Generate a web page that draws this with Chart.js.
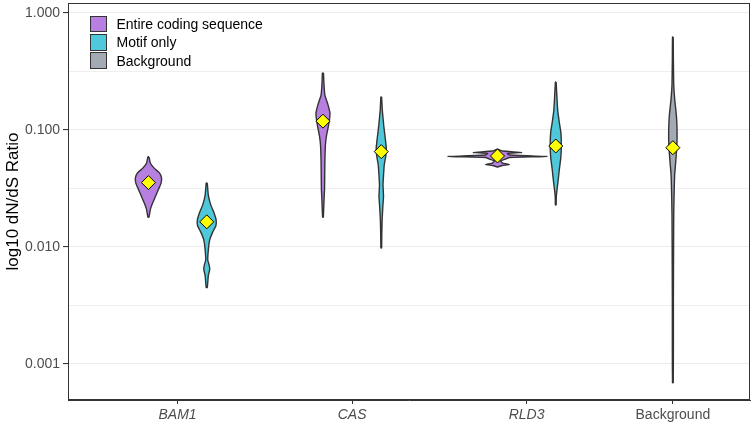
<!DOCTYPE html>
<html>
<head>
<meta charset="utf-8">
<script src="https://cdn.jsdelivr.net/npm/chart.js@4.4.1/dist/chart.umd.min.js"></script>
<style>
  body { margin: 0; background: #fff; font-family: "Liberation Sans", Arial, sans-serif; }
  #wrap { position: relative; width: 755px; height: 425px; }
  #legend { position: absolute; left: 90px; top: 15px; }
  .item { display: flex; align-items: center; height: 18.3px; font-size: 14px; color: #000; }
  .box { width: 14.5px; height: 14.5px; border: 1.2px solid #333; margin-right: 10px; }
</style>
</head>
<body>
<div id="wrap">
  <canvas id="chart" width="755" height="425"></canvas>
  <div id="legend"></div>
</div>
<script>
// categories and x positions
const categories = ['BAM1', 'CAS', 'RLD3', 'Background'];
const catPos = [1, 2, 3, 3.838];
const seriesNames = ['Entire coding sequence', 'Motif only', 'Background'];
const seriesColors = ['#b77fe0', '#50c8dc', '#a3aab4'];

// y ticks (log10 scale)
const yTickValues = [0.001, 0.01, 0.1, 1];
const yTickLabels = ['0.001', '0.010', '0.100', '1.000'];
const yMinorValues = [0.00316, 0.0316, 0.316];

// violin outlines: dN/dS values and half widths (x units)
const bam1CdsY = [0.059, 0.052, 0.047, 0.043, 0.039, 0.035, 0.031, 0.027, 0.023, 0.021, 0.018];
const bam1CdsW = [0.003, 0.011, 0.034, 0.063, 0.075, 0.072, 0.057, 0.040, 0.020, 0.011, 0.003];
const bam1MotifY = [0.0352, 0.0278, 0.0229, 0.0199, 0.0170, 0.0151, 0.0134, 0.0115, 0.0094, 0.0077, 0.0070, 0.0064, 0.0057, 0.0050, 0.0045];
const bam1MotifW = [0.003, 0.009, 0.023, 0.040, 0.054, 0.052, 0.034, 0.017, 0.009, 0.006, 0.014, 0.017, 0.009, 0.006, 0.003];
const casCdsY = [0.307, 0.242, 0.199, 0.164, 0.140, 0.122, 0.104, 0.089, 0.074, 0.055, 0.041, 0.031, 0.025, 0.021, 0.018];
const casCdsW = [0.003, 0.006, 0.011, 0.029, 0.040, 0.037, 0.029, 0.020, 0.014, 0.011, 0.010, 0.009, 0.006, 0.004, 0.002];
const casMotifY = [0.192, 0.148, 0.110, 0.085, 0.070, 0.060, 0.050, 0.041, 0.034, 0.027, 0.022, 0.017, 0.0127, 0.0098];
const casMotifW = [0.002, 0.006, 0.014, 0.023, 0.029, 0.026, 0.017, 0.013, 0.010, 0.013, 0.009, 0.005, 0.003, 0.002];
const rld3CdsY = [0.0688, 0.0661, 0.0642, 0.0630, 0.0611, 0.0594, 0.0582, 0.0565, 0.0543, 0.0522, 0.0507, 0.0497, 0.0483];
const rld3CdsW = [0, 0.029, 0.138, 0.057, 0.069, 0.287, 0.069, 0.046, 0.017, 0.029, 0.069, 0.029, 0];
const rld3MotifY = [0.257, 0.199, 0.148, 0.117, 0.096, 0.074, 0.058, 0.0455, 0.0374, 0.0307, 0.0268, 0.0229];
const rld3MotifW = [0.002, 0.006, 0.011, 0.020, 0.029, 0.032, 0.029, 0.020, 0.014, 0.007, 0.003, 0.002];
const bgY = [0.623, 0.397, 0.242, 0.180, 0.134, 0.100, 0.074, 0.055, 0.041, 0.028, 0.019, 0.0094, 0.0035, 0.0013, 0.00069];
const bgW = [0.002, 0.003, 0.005, 0.011, 0.020, 0.024, 0.023, 0.017, 0.010, 0.007, 0.005, 0.004, 0.003, 0.003, 0.002];

// means (yellow diamonds)
const cdsMean = [0.0355, 0.119, 0.060];
const motifMean = [0.0164, 0.0653, 0.073];
const bgMean = [0.0706];

const dodge = 0.167;

function outline(x, ys, ws) {
  const right = ys.map((y, i) => ({ x: x + ws[i], y }));
  const left = ys.map((y, i) => ({ x: x - ws[i], y })).reverse();
  return right.concat(left, [right[0]]);
}

function violin(x, ys, ws, color) {
  return {
    type: 'line',
    data: outline(x, ys, ws),
    borderColor: '#333333',
    borderWidth: 1.4,
    backgroundColor: color,
    fill: 'shape',
    tension: 0.12,
    pointRadius: 0,
    order: 2
  };
}

const meanPoints = [
  ...cdsMean.map((v, i) => ({ x: catPos[i] - dodge, y: v })),
  ...motifMean.map((v, i) => ({ x: catPos[i] + dodge, y: v })),
  ...bgMean.map(v => ({ x: catPos[3], y: v }))
];

const datasets = [
  {
    type: 'scatter',
    data: meanPoints,
    pointStyle: 'rectRot',
    pointRadius: 7,
    backgroundColor: '#ffff00',
    borderColor: '#000',
    borderWidth: 1,
    order: 0
  },
  violin(catPos[0] - dodge, bam1CdsY, bam1CdsW, seriesColors[0]),
  violin(catPos[0] + dodge, bam1MotifY, bam1MotifW, seriesColors[1]),
  violin(catPos[1] - dodge, casCdsY, casCdsW, seriesColors[0]),
  violin(catPos[1] + dodge, casMotifY, casMotifW, seriesColors[1]),
  violin(catPos[2] - dodge, rld3CdsY, rld3CdsW, seriesColors[0]),
  violin(catPos[2] + dodge, rld3MotifY, rld3MotifW, seriesColors[1]),
  violin(catPos[3], bgY, bgW, seriesColors[2])
];

// html legend
const legend = document.getElementById('legend');
seriesNames.forEach((name, i) => {
  const row = document.createElement('div');
  row.className = 'item';
  row.innerHTML = `<span class="box" style="background:${seriesColors[i]}"></span><span>${name}</span>`;
  legend.appendChild(row);
});

const panelBorder = {
  id: 'panelBorder',
  afterDraw(chart) {
    const { ctx, chartArea: a } = chart;
    ctx.save();
    ctx.strokeStyle = '#333';
    ctx.lineWidth = 1;
    ctx.strokeRect(a.left + 0.5, a.top + 0.5, a.right - a.left - 1, a.bottom - a.top - 1);
    ctx.restore();
  }
};

Chart.defaults.font.family = '"Liberation Sans", Arial, sans-serif';

new Chart(document.getElementById('chart'), {
  type: 'scatter',
  data: { datasets },
  options: {
    responsive: false,
    animation: false,
    layout: { autoPadding: false, padding: { top: 3, right: 5, left: 0, bottom: 0 } },
    plugins: { legend: { display: false }, tooltip: { enabled: false } },
    scales: {
      x: {
        type: 'linear',
        min: 0.372,
        max: 4.28,
        afterBuildTicks: axis => { axis.ticks = catPos.map(v => ({ value: v })); },
        afterFit: axis => { axis.height = 25; axis.paddingLeft = 0; axis.paddingRight = 0; },
        ticks: {
          autoSkip: false,
          maxRotation: 0,
          padding: 3,
          color: '#4d4d4d',
          font: ctx => ({ size: 14, style: ctx.index === 3 ? 'normal' : 'italic' }),
          callback: (v, i) => categories[i]
        },
        grid: { drawOnChartArea: false, tickLength: 4, tickColor: '#333' },
        border: { color: '#333' }
      },
      y: {
        type: 'logarithmic',
        min: 0.000492,
        max: 1.218,
        afterBuildTicks: axis => {
          axis.ticks = yTickValues.concat(yMinorValues).sort((a, b) => a - b).map(v => ({ value: v }));
        },
        afterFit: axis => { axis.width = 68; axis.paddingTop = 0; axis.paddingBottom = 0; },
        ticks: {
          autoSkip: false,
          padding: 3,
          color: '#4d4d4d',
          font: { size: 14 },
          callback: v => {
            const i = yTickValues.indexOf(v);
            return i >= 0 ? yTickLabels[i] : '';
          }
        },
        grid: {
          color: '#ebebeb',
          lineWidth: ctx => (yTickValues.includes(ctx.tick && ctx.tick.value) ? 1.1 : 0.8),
          tickLength: 5,
          tickColor: ctx => (yTickValues.includes(ctx.tick && ctx.tick.value) ? '#333' : 'rgba(0,0,0,0)')
        },
        border: { color: '#333' },
        title: { display: true, text: 'log10 dN/dS Ratio', color: '#000', font: { size: 17 }, padding: { top: 3, bottom: 2 } }
      }
    }
  },
  plugins: [panelBorder]
});
</script>
</body>
</html>
